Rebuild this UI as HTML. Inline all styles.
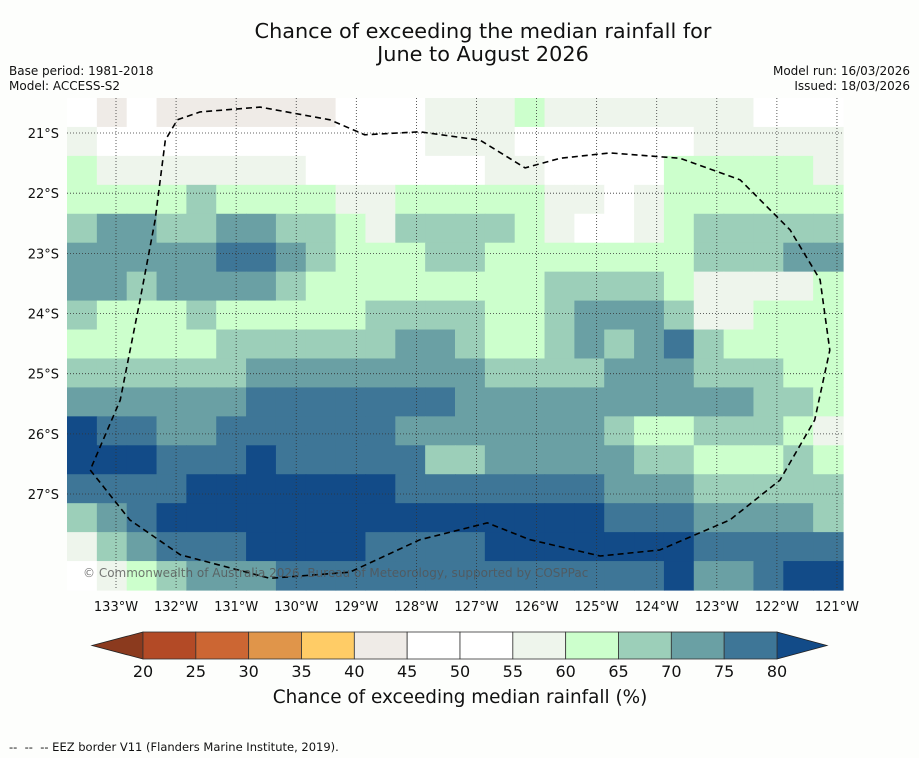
<!DOCTYPE html>
<html><head><meta charset="utf-8"><style>
body{margin:0;background:#fdfefc;font-family:"DejaVu Sans","Liberation Sans",sans-serif;}
svg{display:block}
</style></head><body>
<svg id="chart" width="919" height="758" viewBox="0 0 919 758" xmlns="http://www.w3.org/2000/svg">
<rect width="919" height="758" fill="#fdfefc"/>
<text x="483" y="38" font-size="20.8" text-anchor="middle" fill="#111">Chance of exceeding the median rainfall for</text>
<text x="483" y="61" font-size="20.8" text-anchor="middle" fill="#111">June to August 2026</text>
<text x="9" y="75" font-size="12" fill="#111">Base period: 1981-2018</text>
<text x="9" y="90" font-size="12" fill="#111">Model: ACCESS-S2</text>
<text x="910" y="75" font-size="12" text-anchor="end" fill="#111">Model run: 16/03/2026</text>
<text x="910" y="90" font-size="12" text-anchor="end" fill="#111">Issued: 18/03/2026</text>
<g id="cells"></g>
<g id="grid"></g>
<path id="eez" fill="none" stroke="#000" stroke-width="1.6" stroke-dasharray="6,4"/>
<text x="83" y="577" font-size="12" fill="#555" fill-opacity="0.8">© Commonwealth of Australia 2026, Bureau of Meteorology, supported by COSPPac</text>
<g id="axes"></g>
<g id="cbar"></g>
<text x="460" y="703" font-size="18.4" text-anchor="middle" fill="#111">Chance of exceeding median rainfall (%)</text>
<text x="9" y="751" font-size="11.5" fill="#111" style="white-space:pre">--  --  -- EEZ border V11 (Flanders Marine Institute, 2019).</text>
</svg>
<script>
const levels=[20,25,30,35,40,45,50,55,60,65,70,75,80];
const levelColors=["#b34a26","#cc6633","#e0954a","#ffcc66","#efebe7","#ffffff","#ffffff","#eef5ec","#ccffcc","#9ccfb9","#6aa0a4","#3e7697"];
const lonTicks=[-133,-132,-131,-130,-129,-128,-127,-126,-125,-124,-123,-122,-121];
const latTicks=[-21,-22,-23,-24,-25,-26,-27];
const gridVals=[
[48,42,48,42,42,42,42,42,42,48,48,53,58,58,58,62,58,58,58,58,58,58,58,53,48,53],
[58,53,48,48,48,48,48,48,48,48,48,53,58,58,58,53,53,48,48,48,53,58,58,58,58,58],
[62,58,58,58,58,58,58,58,53,53,48,48,53,53,58,58,53,48,48,53,62,62,62,62,62,58],
[62,62,62,62,67,62,62,62,62,58,58,62,62,62,62,62,58,58,53,58,62,62,62,62,62,62],
[67,72,72,67,67,72,72,67,67,62,58,67,67,67,67,62,58,53,53,58,62,67,67,67,67,67],
[72,72,72,72,72,77,77,72,67,62,62,62,67,67,62,62,62,62,62,62,62,67,67,67,72,72],
[72,72,67,72,72,72,72,67,62,62,62,62,62,62,62,62,67,67,67,67,62,58,58,58,58,62],
[67,62,62,62,67,62,62,62,62,62,67,67,67,67,62,62,67,72,72,72,67,58,58,62,62,62],
[62,62,62,62,62,67,67,67,67,67,67,72,72,67,62,62,67,72,67,72,77,67,62,62,62,62],
[67,67,67,67,67,67,72,72,72,72,72,72,72,72,67,67,67,67,72,72,72,67,67,67,62,62],
[72,72,72,72,72,72,77,77,77,77,77,77,77,72,72,72,72,72,72,72,72,72,72,67,67,62],
[82,77,77,72,72,77,77,77,77,77,77,72,72,72,72,72,72,72,67,62,62,67,67,67,62,58],
[82,82,82,77,77,77,82,77,77,77,77,77,67,67,72,72,72,72,72,67,67,62,62,62,67,62],
[77,77,77,77,82,82,82,82,82,82,82,77,77,77,77,77,77,77,72,72,72,67,67,67,67,67],
[67,72,77,82,82,82,82,82,82,82,82,82,82,82,82,82,82,82,77,77,77,72,72,72,72,67],
[58,67,72,77,77,77,82,82,82,82,77,77,77,77,82,82,82,82,82,82,82,77,77,77,77,77],
[48,58,62,67,72,72,72,77,77,77,77,77,77,77,77,77,77,77,77,77,82,72,72,77,82,82]
];
const eezLon=[-133.43,-132.77,-131.93,-130.44,-129.11,-127.94,-126.82,-126.11,-124.94,-123.95,-122.78,-121.95,-121.37,-121.12,-121.28,-121.78,-122.61,-123.61,-124.78,-125.61,-126.19,-126.94,-127.94,-128.86,-129.44,-130.6,-131.6,-131.98,-132.18,-132.35,-132.6,-132.93,-133.43];
const eezLat=[-26.6,-27.43,-28.01,-28.4,-28.3,-27.76,-27.48,-27.76,-28.03,-27.93,-27.43,-26.77,-25.77,-24.61,-23.44,-22.61,-21.78,-21.42,-21.33,-21.42,-21.58,-21.12,-20.98,-21.03,-20.78,-20.57,-20.65,-20.78,-21.12,-22.45,-23.78,-25.44,-26.6];
</script>
<script>
const NS="http://www.w3.org/2000/svg";
const X0=67,X1=843,Y0=98,Y1=590;
const xs=lon=>116+(lon+133)*60.08;
const ys=lat=>133+(-21-lat)*60.17;
function colorFor(v){if(v<20)return "#8b3a1e";if(v>=80)return "#124b88";let i=Math.floor((v-20)/5);return levelColors[i];}
const cells=document.getElementById('cells');
const nr=gridVals.length,nc=gridVals[0].length,cw=(X1-X0)/nc,ch=(Y1-Y0)/nr;
gridVals.forEach((row,r)=>row.forEach((v,c)=>{
 const el=document.createElementNS(NS,'rect');
 el.setAttribute('x',X0+c*cw);el.setAttribute('y',Y0+r*ch);
 el.setAttribute('width',cw+0.6);el.setAttribute('height',ch+0.6);
 el.setAttribute('fill',colorFor(v));
 
 
 cells.appendChild(el);
}));
const grid=document.getElementById('grid'),axes=document.getElementById('axes');
lonTicks.forEach(l=>{
 const x=xs(l);
 const ln=document.createElementNS(NS,'line');
 ln.setAttribute('x1',x);ln.setAttribute('x2',x);ln.setAttribute('y1',Y0);ln.setAttribute('y2',Y1);
 ln.setAttribute('stroke','#333');ln.setAttribute('stroke-width','0.8');ln.setAttribute('stroke-dasharray','1,2');
 
 
 grid.appendChild(ln);
 const t=document.createElementNS(NS,'text');
 t.setAttribute('x',x);t.setAttribute('y',611);t.setAttribute('font-size','13');t.setAttribute('text-anchor','middle');t.setAttribute('fill','#111');
 t.textContent=Math.abs(l)+'°W';
 
 
 axes.appendChild(t);
});
latTicks.forEach(l=>{
 const y=ys(l);
 const ln=document.createElementNS(NS,'line');
 ln.setAttribute('x1',X0);ln.setAttribute('x2',X1);ln.setAttribute('y1',y);ln.setAttribute('y2',y);
 ln.setAttribute('stroke','#333');ln.setAttribute('stroke-width','0.8');ln.setAttribute('stroke-dasharray','1,2');
 
 
 grid.appendChild(ln);
 const t=document.createElementNS(NS,'text');
 t.setAttribute('x',59);t.setAttribute('y',y+5);t.setAttribute('font-size','13');t.setAttribute('text-anchor','end');t.setAttribute('fill','#111');
 t.textContent=Math.abs(l)+'°S';
 
 
 axes.appendChild(t);
});
let d='';eezLon.forEach((l,i)=>{d+=(i?'L':'M')+xs(l).toFixed(1)+','+ys(eezLat[i]).toFixed(1);});
document.getElementById('eez').setAttribute('d',d);
const cb=document.getElementById('cbar');
const CB0=143,CB1=777,CBT=632,CBB=659;
const cx=v=>CB0+(v-20)*(CB1-CB0)/60;
const lt=document.createElementNS(NS,'polygon');
lt.setAttribute('points',`${CB0},${CBT} 92,${(CBT+CBB)/2} ${CB0},${CBB}`);lt.setAttribute('fill','#8b3a1e');lt.setAttribute('stroke','#222');lt.setAttribute('stroke-width','0.8');


cb.appendChild(lt);
const rt=document.createElementNS(NS,'polygon');
rt.setAttribute('points',`${CB1},${CBT} 827,${(CBT+CBB)/2} ${CB1},${CBB}`);rt.setAttribute('fill','#124b88');rt.setAttribute('stroke','#222');rt.setAttribute('stroke-width','0.8');


cb.appendChild(rt);
levelColors.forEach((c,i)=>{
 const r=document.createElementNS(NS,'rect');
 r.setAttribute('x',cx(levels[i]));r.setAttribute('y',CBT);r.setAttribute('width',cx(levels[i+1])-cx(levels[i]));r.setAttribute('height',CBB-CBT);
 r.setAttribute('fill',c);r.setAttribute('stroke','#333');r.setAttribute('stroke-width','0.8');
 
 
 cb.appendChild(r);
});
levels.forEach(v=>{
 const t=document.createElementNS(NS,'text');
 t.setAttribute('x',cx(v));t.setAttribute('y',677);t.setAttribute('font-size','16');t.setAttribute('text-anchor','middle');t.setAttribute('fill','#111');
 t.textContent=v;
 
 
 cb.appendChild(t);
});
</script>
</body></html>
